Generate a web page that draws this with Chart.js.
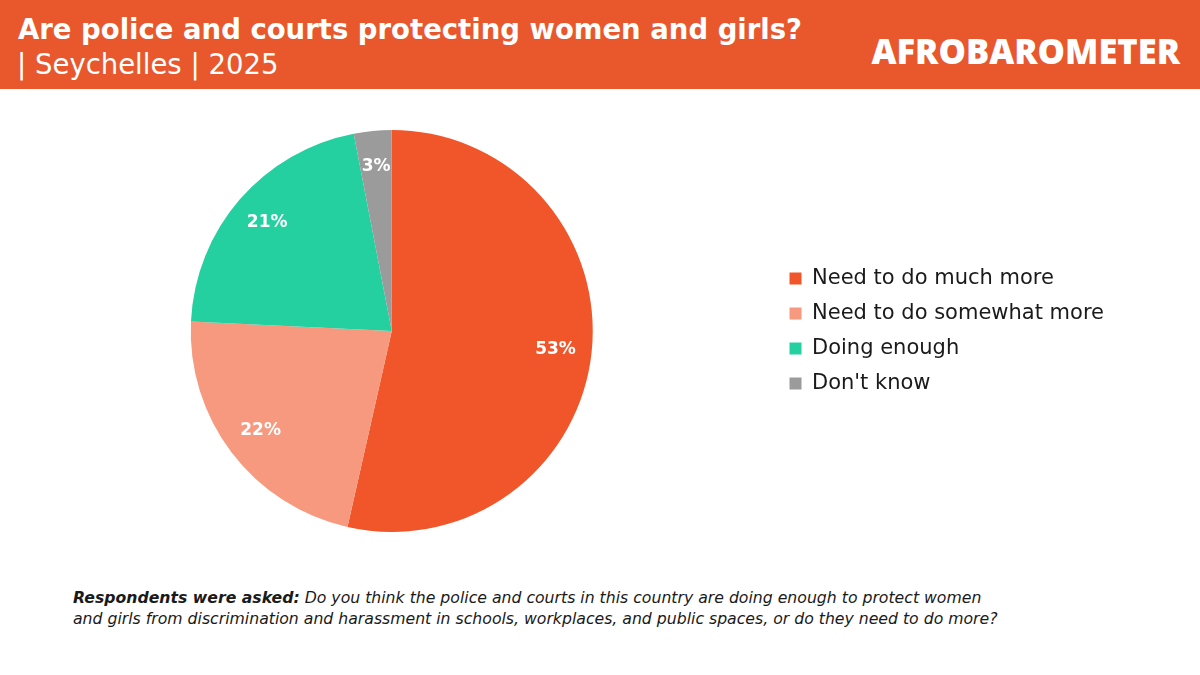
<!DOCTYPE html>
<html>
<head>
<meta charset="utf-8">
<script src="https://cdn.jsdelivr.net/npm/chart.js@4"></script>
<style>
  html, body { margin: 0; padding: 0; background: #fff; }
  body { width: 1200px; height: 675px; position: relative; overflow: hidden; font-family: "DejaVu Sans", sans-serif; }
  #header { position: absolute; left: 0; top: 0; width: 1200px; height: 89px; background: #E9572D; color: #fff; }
  #title { position: absolute; left: 18px; top: 13px; font-size: 27.5px; font-weight: 700; }
  #subtitle { position: absolute; left: 17px; top: 48px; font-size: 27.5px; font-weight: 400; }
  #logo { position: absolute; right: 20px; top: 27px; font-family: "Open Sans", sans-serif; font-size: 34.5px; font-weight: 800; }
  #wrap { position: absolute; left: 0; top: 100px; width: 1200px; height: 462px; }
  #note { position: absolute; left: 73px; top: 587px; font-size: 15.7px; font-style: italic; color: #1a1a1a; line-height: 21px; }
  #note b { font-weight: 700; }
</style>
</head>
<body>
<div id="header">
  <div id="title">Are police and courts protecting women and girls?</div>
  <div id="subtitle">| Seychelles | 2025</div>
  <div id="logo">AFROBAROMETER</div>
</div>
<div id="wrap"><canvas id="pie"></canvas></div>
<div id="note"><b>Respondents were asked:</b> Do you think the police and courts in this country are doing enough to protect women<br>and girls from discrimination and harassment in schools, workplaces, and public spaces, or do they need to do more?</div>
<script>
const categories = ['Need to do much more', 'Need to do somewhat more', 'Doing enough', "Don't know"];
const shares = [53, 22, 21, 3];
const colours = ['#F1562A', '#F6997E', '#24CFA0', '#9B9B9B'];

// percent labels inside each slice
const sliceLabels = {
    id: 'sliceLabels',
    afterDatasetsDraw(chart) {
        const ctx = chart.ctx;
        const meta = chart.getDatasetMeta(0);
        ctx.save();
        ctx.fillStyle = '#fff';
        ctx.font = 'bold 17px "DejaVu Sans"';
        ctx.textAlign = 'center';
        ctx.textBaseline = 'middle';
        meta.data.forEach((arc, i) => {
            const p = arc.getProps(['x', 'y', 'startAngle', 'endAngle', 'outerRadius'], true);
            const mid = (p.startAngle + p.endAngle) / 2;
            const r = p.outerRadius * 0.82;
            ctx.fillText(shares[i] + '%', p.x + Math.cos(mid) * r, p.y + Math.sin(mid) * r);
        });
        ctx.restore();
    }
};

new Chart(document.getElementById('pie'), {
    type: 'pie',
    data: {
        labels: categories,
        datasets: [{
            data: shares,
            backgroundColor: colours,
            borderWidth: 0
        }]
    },
    options: {
        responsive: true,
        maintainAspectRatio: false,
        animation: false,
        layout: { padding: { left: 8, right: 86, top: 30, bottom: 30 } },
        plugins: {
            legend: {
                position: 'right',
                labels: {
                    usePointStyle: true,
                    pointStyle: 'rect',
                    boxWidth: 12,
                    boxHeight: 12,
                    padding: 14,
                    color: '#1a1a1a',
                    font: { family: 'DejaVu Sans', size: 21 }
                }
            },
            tooltip: { enabled: false }
        }
    },
    plugins: [sliceLabels]
});
</script>
</body>
</html>
